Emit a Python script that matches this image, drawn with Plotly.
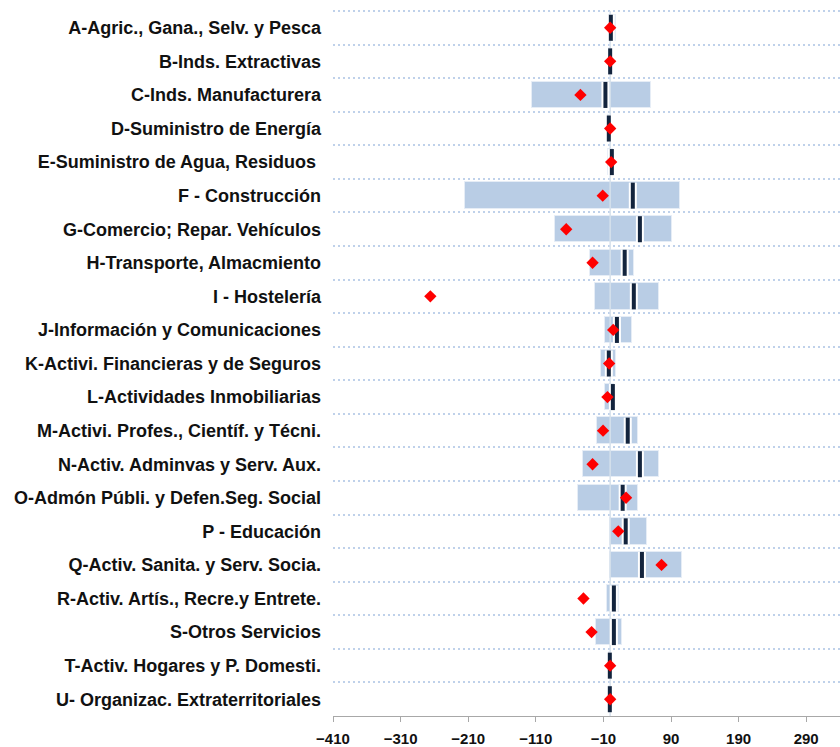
import plotly.graph_objects as go

categories = [
    "A-Agric., Gana., Selv. y Pesca",
    "B-Inds. Extractivas",
    "C-Inds. Manufacturera",
    "D-Suministro de Energía",
    "E-Suministro de Agua, Residuos ",
    "F - Construcción",
    "G-Comercio; Repar. Vehículos",
    "H-Transporte, Almacmiento",
    "I - Hostelería",
    "J-Información y Comunicaciones",
    "K-Activi. Financieras y de Seguros",
    "L-Actividades Inmobiliarias",
    "M-Activi. Profes., Científ. y Técni.",
    "N-Activ. Adminvas y Serv. Aux.",
    "O-Admón Públi. y Defen.Seg. Social",
    "P - Educación",
    "Q-Activ. Sanita. y Serv. Socia.",
    "R-Activ. Artís., Recre.y Entrete.",
    "S-Otros Servicios",
    "T-Activ. Hogares y P. Domesti.",
    "U- Organizac. Extraterritoriales",
]
range_min = [-1, -1, -115, -3, -3, -215, -82, -30, -22, -8, -14, -7, -20, -40, -47, 0, 0, -4, -21, -2, -1]
range_max = [9, 1, 61, -1, 4, 104, 91, 35, 72, 32, 8, 6, 41, 72, 41, 55, 107, 13, 17, 0, 1]
median_vals = [1, 0, -7, -2, 2.5, 33.5, 44, 21.5, 35, 10, -2, 4, 26, 44, 18.5, 23, 47, 5.5, 5.5, -0.5, -0.5]
point_vals = [0, 0, -44, 0, 1.5, -11, -65, -26, -266, 4.5, -1.5, -4, -10.5, -26, 23.5, 12, 76, -39.5, -27.5, 0, 0]
x_ticks = [-410, -310, -210, -110, -10, 90, 190, 290]

pos = list(range(len(categories)))
boundaries = [i - 0.5 for i in range(len(categories) + 1)]

fig = go.Figure()
fig.add_trace(go.Bar(
    y=pos, x=[b - a for a, b in zip(range_min, range_max)], base=range_min,
    orientation="h", width=0.79,
    marker=dict(color="#b9cde5", line=dict(color="#e6edf6", width=1)),
    showlegend=False, hoverinfo="skip",
))
fig.add_trace(go.Scatter(
    x=[0, 0], y=[boundaries[0], boundaries[-1]], mode="lines",
    line=dict(color="#d6e0ec", width=1.5), showlegend=False, hoverinfo="skip",
))
fig.add_trace(go.Scatter(
    x=median_vals, y=pos, mode="markers",
    marker=dict(symbol="line-ns", size=18.6, line=dict(color="white", width=8)),
    showlegend=False, hoverinfo="skip",
))
fig.add_trace(go.Scatter(
    x=median_vals, y=pos, mode="markers",
    marker=dict(symbol="line-ns", size=18.6, line=dict(color="#13243d", width=4)),
    showlegend=False, hoverinfo="skip",
))
fig.add_trace(go.Scatter(
    x=point_vals, y=pos, mode="markers",
    marker=dict(symbol="diamond", size=9.5, color="#ff0000", line=dict(width=0)),
    showlegend=False, hoverinfo="skip",
))

fig.update_layout(
    width=840, height=747,
    margin=dict(l=333, r=0, t=10, b=31, autoexpand=False),
    paper_bgcolor="white", plot_bgcolor="white",
    font=dict(family="Liberation Sans", color="#111111"),
    bargap=0,
)
fig.update_xaxes(
    range=[-410, 340], tickmode="array", tickvals=x_ticks, automargin=False,
    showgrid=False, zeroline=False,
    showline=True, linecolor="#a8a8a8", linewidth=1,
    ticks="outside", ticklen=5, tickcolor="#a8a8a8", tickwidth=1,
    ticklabelstandoff=4,
    tickfont=dict(family="Liberation Sans", size=15, color="#111111", weight="bold"),
)
fig.update_yaxes(
    range=[boundaries[-1], boundaries[0] - 0.03], tickmode="array", tickvals=pos, ticktext=categories,
    automargin=False,
    showgrid=False, zeroline=False, showline=False, ticks="",
    ticklabelstandoff=11,
    tickfont=dict(family="Liberation Sans", size=18, color="#111111", weight="bold"),
    minor=dict(tickmode="array", tickvals=boundaries, showgrid=True, gridcolor="#bfd1ea",
               gridwidth=2, griddash="2px,3px", ticks=""),
)

# remove the default page margin so the 840x747 figure fills the window exactly
fig.write_html(
    "out.html",
    config={"displayModeBar": False},
    post_script="document.body.style.margin='0';document.body.style.overflow='hidden';",
)
